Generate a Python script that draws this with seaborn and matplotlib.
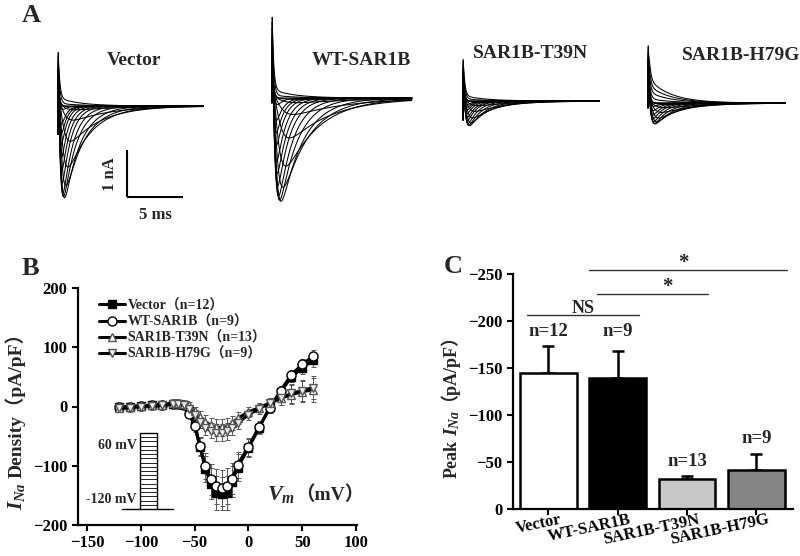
import numpy as np
import pandas as pd
import matplotlib
matplotlib.use("Agg")
import matplotlib.pyplot as plt
import seaborn as sns
from matplotlib.transforms import IdentityTransform, ScaledTranslation
from matplotlib.font_manager import FontProperties, findfont, get_font
from matplotlib.backends.backend_agg import get_hinting_flag

# ---------------- data ----------------
# Panel A: representative current families
trace_groups = ["Vector", "WT-SAR1B", "SAR1B-T39N", "SAR1B-H79G"]
step_mV = [-70, -60, -55, -50, -45, -40, -35, -30, -25, -20, -15, -10, -5, 0, 5, 10, 20, 30, 40]
tau_m_ms = [0.6, 0.55, 0.5, 0.42, 0.35, 0.28, 0.22, 0.18, 0.15, 0.13, 0.11, 0.10, 0.09, 0.08, 0.075, 0.07, 0.06, 0.055, 0.05]
tau_h_ms = [5.0, 4.5, 4.0, 3.4, 2.7, 2.1, 1.7, 1.4, 1.15, 0.95, 0.8, 0.7, 0.6, 0.52, 0.46, 0.42, 0.36, 0.32, 0.3]
peak_vector_nA = [0, -0.02, -0.08, -0.3, -0.75, -1.3, -1.7, -1.96, -1.95, -1.9, -1.7, -1.45, -1.2, -0.95, -0.75, -0.55, -0.2, 0.05, 0.15]
peak_wt_nA = [0, -0.03, -0.1, -0.35, -0.85, -1.45, -1.9, -2.2, -2.18, -2.1, -1.9, -1.65, -1.4, -1.1, -0.85, -0.6, -0.25, 0.05, 0.15]
peak_t39n_nA = [0, -0.01, -0.03, -0.1, -0.22, -0.36, -0.47, -0.53, -0.53, -0.5, -0.45, -0.4, -0.33, -0.27, -0.21, -0.15, -0.05, 0.04, 0.1]
peak_h79g_nA = [0, -0.01, -0.03, -0.1, -0.2, -0.32, -0.4, -0.45, -0.45, -0.42, -0.37, -0.3, -0.22, -0.12, -0.02, 0.08, 0.2, 0.32, 0.45]
cap_peak_nA = [1.32, 2.0, 1.02, 1.4]
cap_neg_nA = [-0.6, -0.1, -0.4, -0.1]
kinetic_scale = [1.0, 1.4, 1.0, 1.1]
sweep_ms = [13.0, 12.5, 12.2, 12.3]
tau_out_ms = 2.0

# Panel B: I-V relationship
iv_mV = [-120, -110, -100, -90, -80, -70, -65, -60, -55, -50, -45, -40, -35, -30, -25, -20, -15, -10, 0, 10, 20, 30, 40, 50, 60]
iv_vector = [0, 0, 1, 2, 3, 4, 4, 2, -8, -30, -68, -105, -130, -146, -147, -146, -127, -103, -70, -36, 0, 25, 50, 65, 78]
iv_vector_err = [4, 4, 4, 4, 5, 5, 5, 5, 6, 10, 15, 22, 26, 28, 28, 28, 26, 22, 15, 10, 8, 8, 8, 10, 12]
iv_wt = [-1, 0, 1, 2, 3, 5, 5, 3, -12, -33, -67, -100, -123, -135, -138, -134, -122, -98, -68, -34, -3, 27, 54, 71, 85]
iv_wt_err = [4, 4, 4, 4, 5, 5, 5, 5, 6, 10, 15, 22, 26, 30, 30, 30, 26, 22, 15, 10, 8, 8, 8, 9, 11]
iv_t39n = [-2, -1, 1, 2, 3, 6, 6, 5, 2, -8, -18, -26, -32, -35, -35, -34, -28, -20, -9, -2, 6, 14, 20, 25, 28]
iv_t39n_err = [5, 5, 5, 5, 5, 5, 5, 5, 6, 8, 10, 12, 13, 14, 14, 14, 12, 10, 8, 8, 9, 12, 16, 18, 20]
iv_h79g = [-3, -2, 0, 1, 2, 4, 4, 2, -4, -14, -27, -36, -41, -44, -44, -42, -36, -28, -14, -4, 6, 14, 22, 27, 32]
iv_h79g_err = [5, 5, 5, 5, 5, 5, 5, 5, 6, 8, 10, 12, 13, 14, 14, 14, 12, 10, 8, 8, 9, 12, 16, 18, 20]
iv_labels = ["Vector（n=12）", "WT-SAR1B（n=9）", "SAR1B-T39N（n=13）", "SAR1B-H79G（n=9）"]
ladder_mV = [-120, -110, -100, -90, -80, -70, -60, -50, -40, -30, -20, -10, 0, 10, 20, 30, 40, 50, 60]

# Panel C: peak current density
bar_cats = ["Vector", "WT-SAR1B", "SAR1B-T39N", "SAR1B-H79G"]
bar_mean = [-145, -139, -32, -42]
bar_sem = [28, 29, 3, 17]
bar_n = ["n=12", "n=9", "n=13", "n=9"]

# ---------------- style ----------------
sns.set_style("ticks")
SERIF = "Liberation Serif"
CJK = "Noto Sans CJK SC"
FAM = [SERIF, CJK]
plt.rcParams.update({
    "font.family": FAM,
    "font.weight": "bold",
    "axes.labelweight": "bold",
    "mathtext.fontset": "custom",
    "mathtext.it": "Liberation Serif:italic:bold",
    "mathtext.rm": "Liberation Serif:bold",
    "mathtext.bf": "Liberation Serif:bold",
    "axes.unicode_minus": True,
    "axes.linewidth": 1.6,
    "xtick.major.width": 1.5, "ytick.major.width": 1.5,
    "xtick.major.size": 4, "ytick.major.size": 4,
    "xtick.color": "black", "ytick.color": "black",
    "axes.edgecolor": "black",
})

W, H = 800, 556
DPI = 100
fig = plt.figure(figsize=(W / DPI, H / DPI), dpi=DPI)
renderer = fig.canvas.get_renderer()


def ink_offset(s, family, size):
    """Left bearing (px) of the first glyph as Agg places it."""
    fp = FontProperties(family=family, weight="bold", size=size)
    f = get_font(findfont(fp))
    f.clear()
    f.set_size(size, DPI)
    f.set_text(s, 0, flags=get_hinting_flag())
    return f.get_bitmap_offset()[0] / 64.0


def chain(x, y, pieces, rotation=0):
    """Place text pieces one after another along a common baseline (display px)."""
    for s, kw in pieces:
        kw = dict(kw)
        gap = kw.pop("gap", 0)
        fix = kw.pop("fix", None)
        if rotation == 90:
            y += gap
        else:
            x += gap
        px, py = x, y
        if rotation == 90 and fix:
            xo = ink_offset(s[0], fix, kw.get("fontsize", 12))
            px, py = x - xo, y + xo
        t = fig.text(px, py, s, transform=IdentityTransform(), rotation=rotation,
                     rotation_mode="anchor", ha="left", va="baseline", **kw)
        bb = t.get_window_extent(renderer)
        adv = bb.height if rotation == 90 else bb.width
        if rotation == 90:
            y += adv
        else:
            x += adv


# ---------------- Panel A ----------------
A_TOP = 235  # px height of panel A strip
PX_MS = 11.2
PX_NA = 47.0
axA = fig.add_axes([0, 1 - A_TOP / H, 1, A_TOP / H])
axA.set_xlim(0, W / PX_MS)
axA.set_ylim(0, A_TOP / PX_NA)
axA.axis("off")

start_px = [58, 272, 463, 648]
base_px = [106, 98, 101, 103]
peaks_all = [peak_vector_nA, peak_wt_nA, peak_t39n_nA, peak_h79g_nA]
for gi, grp in enumerate(trace_groups):
    rows = []
    t0 = start_px[gi] / PX_MS
    base = (A_TOP - base_px[gi]) / PX_NA
    ks = kinetic_scale[gi]
    for si, v in enumerate(step_mV):
        t = np.arange(0, sweep_ms[gi], 0.02)
        tm = tau_m_ms[si] * ks
        th = tau_h_ms[si] * ks
        pk = peaks_all[gi][si]
        if pk > 0:
            th = tau_out_ms
        g = (1 - np.exp(-t / tm)) ** 3 * np.exp(-t / th)
        g = g / g.max()
        frac = (v + 120) / 160.0
        y = pk * g + cap_peak_nA[gi] * frac * np.exp(-t / 0.13)
        y[0] = cap_neg_nA[gi]
        rows.append(pd.DataFrame({"t": t0 + t, "y": base + y, "sweep": si}))
    df = pd.concat(rows)
    sns.lineplot(data=df, x="t", y="y", units="sweep", estimator=None, sort=False,
                 color="black", lw=0.75, ax=axA)
axA.set_xlabel("")
axA.set_ylabel("")

# scale bar
sb_x = 127 / PX_MS
sb_y = (A_TOP - 197) / PX_NA
axA.plot([sb_x, sb_x], [sb_y, sb_y + 1], color="black", lw=1.5, solid_capstyle="butt")
axA.plot([sb_x, sb_x + 5], [sb_y, sb_y], color="black", lw=1.5, solid_capstyle="butt")
fig.text(110 / W, 1 - 174 / H, "1 nA", rotation=90, ha="center", va="center", fontsize=12)
fig.text(155 / W, 1 - 219 / H, "5 ms", ha="center", va="baseline", fontsize=12)

label_x = [134, 361, 530, 741]
label_base = [65, 65, 58, 60]
for lbl, lx, ly in zip(trace_groups, label_x, label_base):
    fig.text(lx / W, 1 - ly / H, lbl, ha="center", va="baseline", fontsize=14)

# panel letters
fig.text(22 / W, 1 - 22 / H, "A", fontsize=19, ha="left", va="baseline")
fig.text(22 / W, 1 - 275 / H, "B", fontsize=19, ha="left", va="baseline")
fig.text(444 / W, 1 - 273 / H, "C", fontsize=19, ha="left", va="baseline")

# ---------------- Panel B ----------------
axB = fig.add_axes([78 / W, 1 - 525 / H, 279 / W, 237 / H])
series = [
    (iv_vector, iv_vector_err, dict(marker="s", markerfacecolor="black", markeredgecolor="black", ms=5.5)),
    (iv_wt, iv_wt_err, dict(marker="o", markerfacecolor="white", markeredgecolor="black", ms=6.5)),
    (iv_t39n, iv_t39n_err, dict(marker="^", markerfacecolor="white", markeredgecolor="#555555", ms=6)),
    (iv_h79g, iv_h79g_err, dict(marker="v", markerfacecolor="#eeeeee", markeredgecolor="#555555", ms=6)),
]
for (vals, err, mk), lab in zip(series, iv_labels):
    axB.errorbar(iv_mV, vals, yerr=err, fmt="none", ecolor="#555555", elinewidth=0.7,
                 capsize=1.8, capthick=0.7, zorder=1)
for idx in [2, 3, 0, 1]:
    vals, err, mk = series[idx]
    sns.lineplot(x=iv_mV, y=vals, color="black", lw=2.2, markeredgewidth=1.0,
                 label=iv_labels[idx], ax=axB, zorder=3 + idx, **mk)
handles, labels = axB.get_legend_handles_labels()
order = [labels.index(l) for l in iv_labels]
axB.legend([handles[i] for i in order], [labels[i] for i in order],
           loc="upper left", bbox_to_anchor=(99 / W, 1 - 299 / H), bbox_transform=fig.transFigure,
           frameon=False, prop=dict(family=FAM, weight="bold", size=10),
           handlelength=1.9, handletextpad=0.15, labelspacing=0.2, borderaxespad=0, borderpad=0)
axB.set_xlim(-158.4, 100.9)
axB.set_ylim(-200, 200)
axB.set_xticks([-150, -100, -50, 0, 50, 100])
axB.set_yticks([-200, -100, 0, 100, 200])
axB.tick_params(labelsize=12)
axB.set_xlabel("")
axB.set_ylabel("")
sns.despine(ax=axB)


# voltage protocol inset
def bpx(xpx, ypx):
    return (xpx - 87) / 1.076 - 150, (406.5 - ypx) / 0.5925


bx0, by_bot = bpx(140, 509)
bx1, by_top = bpx(157, 433)
lx0, _ = bpx(122, 509)
lx1, _ = bpx(173, 509)
axB.plot([lx0, lx1], [by_bot, by_bot], color="black", lw=1.0)
lv = np.array(ladder_mV, dtype=float)
ly = by_bot + (lv - lv.min()) / (lv.max() - lv.min()) * (by_top - by_bot)
axB.hlines(ly, bx0, bx1, color="black", lw=0.6)
axB.plot([bx0, bx0, bx1, bx1], [by_bot, by_top, by_top, by_bot], color="black", lw=1.0)
fig.text(137 / W, 1 - 449 / H, "60 mV", ha="right", va="baseline", fontsize=10)
fig.text(137 / W, 1 - 503 / H, "-120 mV", ha="right", va="baseline", fontsize=10)

# axis labels of B
chain(22, H - 510, [("$I_{Na}$", dict(fontsize=15)),
                    ("Density（pA/pF）", dict(fontsize=14, gap=4, family=FAM))], rotation=90)
chain(267, H - 500, [("$V_m$", dict(fontsize=16)),
                     ("（mV）", dict(fontsize=14, family=FAM))])

# ---------------- Panel C ----------------
axC = fig.add_axes([513 / W, 1 - 509 / H, 280 / W, 235 / H])
dfc = pd.DataFrame({"group": bar_cats, "value": bar_mean})
bar_colors = ["white", "black", "#c8c8c8", "#858585"]
axC.errorbar(range(len(bar_cats)), bar_mean, yerr=[bar_sem, [0] * len(bar_sem)], fmt="none",
             ecolor="black", elinewidth=1.8, capsize=4, capthick=1.8, zorder=0)
sns.barplot(data=dfc, x="group", y="value", hue="group", palette=bar_colors, saturation=1,
            edgecolor="black", linewidth=1.8, width=0.82, legend=False, ax=axC, zorder=2)
axC.set_xlim(-0.51, 3.53)
axC.set_ylim(0, -250)
axC.set_yticks([0, -50, -100, -150, -200, -250])
axC.tick_params(axis="y", labelsize=12)
axC.tick_params(axis="x", pad=1)
axC.set_xlabel("")
axC.set_ylabel("")
sns.despine(ax=axC)
axC.set_xticks(range(len(bar_cats)))
axC.set_xticklabels(bar_cats, rotation=12, ha="right", va="top", rotation_mode="anchor", fontsize=12)
off = ScaledTranslation(8 / 72, 3 / 72, fig.dpi_scale_trans)
for lab in axC.get_xticklabels():
    lab.set_transform(lab.get_transform() + off)

n_label_top = [m - s for m, s in zip(bar_mean, bar_sem)]
n_label_top[1] = min(n_label_top[0], n_label_top[1])
for i, (top, n) in enumerate(zip(n_label_top, bar_n)):
    axC.text(i, top - 11, n, ha="center", va="baseline", fontsize=13.5)

# significance markers
sig = [((-0.31, 1.31), -206, "NS"), ((0.70, 2.31), -229, "*"), ((0.58, 3.44), -254.3, "*")]
for (xa, xb), yv, txt in sig:
    axC.plot([xa, xb], [yv, yv], color="#333333", lw=1.0, clip_on=False)
sig_text_x = [0.5, 1.72, 1.95]
sig_text_y = [-208.5, -231, -256]
for (_, _, txt), tx, ty in zip(sig, sig_text_x, sig_text_y):
    axC.text(tx, ty, txt, ha="center", va="baseline", fontsize=13 if txt == "NS" else 15, clip_on=False)

chain(457, H - 478, [("Peak", dict(fontsize=13, family=SERIF)),
                     ("$I_{Na}$", dict(fontsize=14, gap=4)),
                     ("（pA/pF）", dict(fontsize=13, family=FAM, fix=CJK, gap=-3))], rotation=90)

fig.savefig("out.png", dpi=DPI)
